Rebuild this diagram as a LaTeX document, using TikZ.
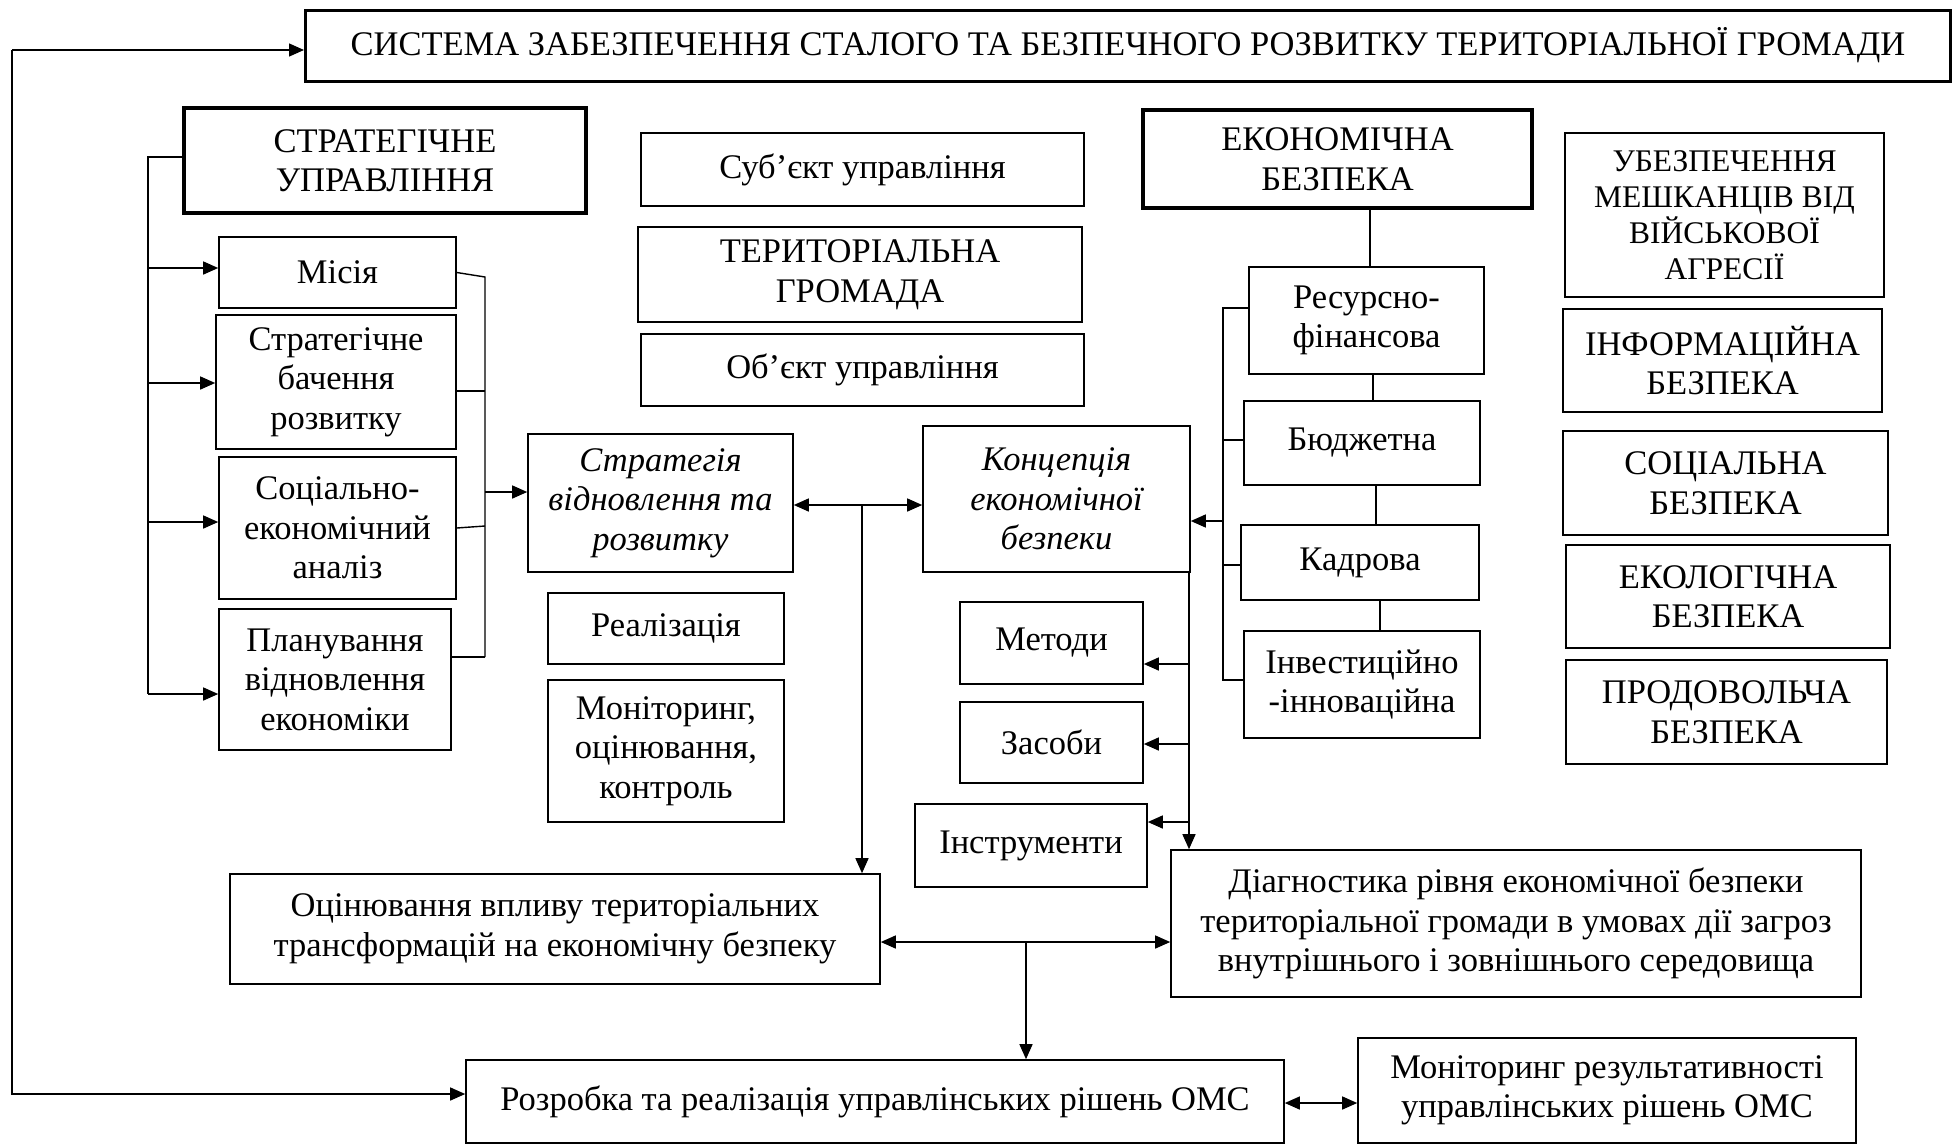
\documentclass[tikz,border=0pt]{standalone}
\usepackage{fontspec}
\setmainfont{Liberation Serif}
\usetikzlibrary{arrows.meta}
\newcommand{\fsn}{\fontsize{34.5}{39.5}\selectfont}
\newcommand{\fss}{\fontsize{31.5}{36}\selectfont}
\begin{document}
\begin{tikzpicture}[x=1pt,y=-1pt,
  box/.style={draw, line width=1.6pt, inner sep=0pt, align=center, font=\fsn},
  tbox/.style={box, line width=3.6pt},
  ln/.style={line width=1.4pt},
  arr/.style={line width=1.4pt, -{Triangle[length=15pt,width=13pt]}},
  darr/.style={line width=1.4pt, {Triangle[length=15pt,width=13pt]}-{Triangle[length=15pt,width=13pt]}}]
\useasboundingbox (0,0) rectangle (1954,1144);
% top
\node[tbox, line width=3pt, minimum width=1645pt, minimum height=71pt] (title) at (1128,45.5) {СИСТЕМА ЗАБЕЗПЕЧЕННЯ СТАЛОГО ТА БЕЗПЕЧНОГО РОЗВИТКУ ТЕРИТОРІАЛЬНОЇ ГРОМАДИ};
% left column
\node[tbox, minimum width=402pt, minimum height=105pt] (su) at (385,160.5) {СТРАТЕГІЧНЕ\\УПРАВЛІННЯ};
\node[box, minimum width=237pt, minimum height=71pt] (misia) at (337.5,272.5) {Місія};
\node[box, minimum width=240pt, minimum height=134pt] (bach) at (336,382) {Стратегічне\\бачення\\розвитку};
\node[box, minimum width=237pt, minimum height=142pt] (soc) at (337.5,528) {Соціально-\\економічний\\аналіз};
\node[box, minimum width=232pt, minimum height=141pt] (plan) at (335,679.5) {Планування\\відновлення\\економіки};
% strategy column
\node[box, minimum width=265pt, minimum height=138pt, font=\fsn\itshape] (strat) at (660.5,503) {Стратегія\\відновлення та\\розвитку};
\node[box, minimum width=236pt, minimum height=71pt] (real) at (666,628.5) {Реалізація};
\node[box, minimum width=236pt, minimum height=142pt] (monk) at (666,751) {Моніторинг,\\оцінювання,\\контроль};
% middle top
\node[box, minimum width=443pt, minimum height=73pt] (subj) at (862.5,169.5) {Суб’єкт управління};
\node[box, minimum width=444pt, minimum height=95pt] (terg) at (860,274.5) {ТЕРИТОРІАЛЬНА\\ГРОМАДА};
\node[box, minimum width=443pt, minimum height=72pt] (obj) at (862.5,370) {Об’єкт управління};
% concept column
\node[box, minimum width=267pt, minimum height=146pt, font=\fsn\itshape] (konc) at (1056.5,499) {Концепція\\економічної\\безпеки};
\node[box, minimum width=183pt, minimum height=82pt] (metody) at (1051.5,643) {Методи};
\node[box, minimum width=183pt, minimum height=81pt] (zasoby) at (1051.5,742.5) {Засоби};
\node[box, minimum width=232pt, minimum height=83pt] (instr) at (1031,845.5) {Інструменти};
% lower
\node[box, minimum width=690pt, minimum height=147pt] (diag) at (1516,923.5) {Діагностика рівня економічної безпеки\\територіальної громади в умовах дії загроз\\внутрішнього і зовнішнього середовища};
\node[box, minimum width=650pt, minimum height=110pt] (ocin) at (555,929) {Оцінювання впливу територіальних\\трансформацій на економічну безпеку};
\node[box, minimum width=818pt, minimum height=83pt] (rozr) at (875,1101.5) {Розробка та реалізація управлінських рішень ОМС};
\node[box, minimum width=498pt, minimum height=105pt] (monr) at (1607,1090.5) {Моніторинг результативності\\управлінських рішень ОМС};
% economic security
\node[tbox, minimum width=389pt, minimum height=98pt] (eb) at (1337.5,159) {ЕКОНОМІЧНА\\БЕЗПЕКА};
\node[box, minimum width=235pt, minimum height=107pt] (resf) at (1366.5,320.5) {Ресурсно-\\фінансова};
\node[box, minimum width=236pt, minimum height=84pt] (budz) at (1362,443) {Бюджетна};
\node[box, minimum width=238pt, minimum height=75pt] (kadr) at (1360,562.5) {Кадрова};
\node[box, minimum width=236pt, minimum height=107pt] (inv) at (1362,684.5) {Інвестиційно\\-інноваційна};
% right column
\node[box, minimum width=319pt, minimum height=164pt, font=\fss] (ubez) at (1724.5,215) {УБЕЗПЕЧЕННЯ\\МЕШКАНЦІВ ВІД\\ВІЙСЬКОВОЇ\\АГРЕСІЇ};
\node[box, minimum width=319pt, minimum height=103pt] (inf) at (1722.5,360.5) {ІНФОРМАЦІЙНА\\БЕЗПЕКА};
\node[box, minimum width=325pt, minimum height=104pt] (socb) at (1725.5,483) {СОЦІАЛЬНА\\БЕЗПЕКА};
\node[box, minimum width=324pt, minimum height=103pt] (ekol) at (1728,596.5) {ЕКОЛОГІЧНА\\БЕЗПЕКА};
\node[box, minimum width=321pt, minimum height=104pt] (prod) at (1726.5,712) {ПРОДОВОЛЬЧА\\БЕЗПЕКА};
% ---- connectors ----
% outer loop
\coordinate (lt) at (12,50);
\coordinate (lb) at (12,1094);
\draw[arr] (lt) -- (lt -| title.west);
\draw[arr] (lt) -- (lb) -- (lb -| rozr.west);
% left bracket from strategic management
\coordinate (s0) at (148,157);
\coordinate (s1) at (148,268);
\coordinate (s2) at (148,383);
\coordinate (s3) at (148,522);
\coordinate (s4) at (148,694);
\draw[ln] (s0 -| su.west) -- (s0) -- (s4);
\draw[arr] (s1) -- (s1 -| misia.west);
\draw[arr] (s2) -- (s2 -| bach.west);
\draw[arr] (s3) -- (s3 -| soc.west);
\draw[arr] (s4) -- (s4 -| plan.west);
% right bracket to strategy
\coordinate (r1) at (485,277);
\coordinate (r2) at (485,391);
\coordinate (r3) at (485,526);
\coordinate (r4) at (485,657);
\coordinate (r0) at (485,492);
\draw[ln] (misia.east) -- (r1) -- (r4);
\draw[ln] (r2 -| bach.east) -- (r2);
\draw[ln] (soc.east) -- (r3);
\draw[ln] (r4 -| plan.east) -- (r4);
\draw[arr] (r0) -- (r0 -| strat.west);
% strategy <-> concept, drop to assessment
\coordinate (m1) at (862,505);
\draw[darr] (m1 -| strat.east) -- (m1 -| konc.west);
\draw[arr] (m1) -- (m1 |- ocin.north);
% economic security tree
\coordinate (e1) at (1370,0);
\coordinate (e2) at (1373,0);
\coordinate (e3) at (1376,0);
\coordinate (e4) at (1380,0);
\draw[ln] (e1 |- eb.south) -- (e1 |- resf.north);
\draw[ln] (e2 |- resf.south) -- (e2 |- budz.north);
\draw[ln] (e3 |- budz.south) -- (e3 |- kadr.north);
\draw[ln] (e4 |- kadr.south) -- (e4 |- inv.north);
\coordinate (k1) at (1223,308);
\coordinate (k2) at (1223,440);
\coordinate (k3) at (1223,565);
\coordinate (k4) at (1223,680);
\coordinate (k0) at (1223,521);
\draw[ln] (k1 -| resf.west) -- (k1) -- (k4) -- (k4 -| inv.west);
\draw[ln] (k2) -- (k2 -| budz.west);
\draw[ln] (k3) -- (k3 -| kadr.west);
\draw[arr] (k0) -- (k0 -| konc.east);
% concept down-line
\coordinate (c0) at (1189,0);
\coordinate (c1) at (1189,664);
\coordinate (c2) at (1189,744);
\coordinate (c3) at (1189,822);
\draw[arr] (c0 |- konc.south) -- (c0 |- diag.north);
\draw[arr] (c1) -- (c1 -| metody.east);
\draw[arr] (c2) -- (c2 -| zasoby.east);
\draw[arr] (c3) -- (c3 -| instr.east);
% assessment <-> diagnostics, drop to decisions
\coordinate (d1) at (1026,942);
\draw[darr] (d1 -| ocin.east) -- (d1 -| diag.west);
\draw[arr] (d1) -- (d1 |- rozr.north);
% decisions <-> monitoring
\coordinate (f1) at (1320,1103);
\draw[darr] (f1 -| rozr.east) -- (f1 -| monr.west);
\end{tikzpicture}
\end{document}
